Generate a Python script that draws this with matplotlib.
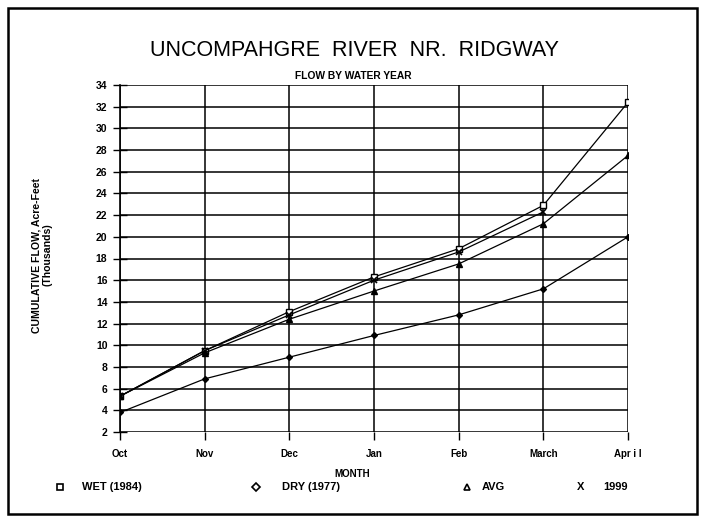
import matplotlib
matplotlib.use('Agg')
import matplotlib.pyplot as plt
from matplotlib.patches import Rectangle

# DATA
months = ['Oct', 'Nov', 'Dec', 'Jan', 'Feb', 'March', 'Apr i l']
wet_1984 = [5.3, 9.5, 13.1, 16.3, 18.9, 22.9, 32.4]
dry_1977 = [3.8, 6.9, 8.9, 10.9, 12.8, 15.2, 20.0]
avg = [5.3, 9.3, 12.4, 15.0, 17.5, 21.2, 27.5]
y_1999 = [5.3, 9.5, 12.8, 16.0, 18.6, 22.3]
yticks = list(range(2, 35, 2))

plt.rcParams['font.family'] = ['Liberation Sans', 'DejaVu Sans']

fig = plt.figure(figsize=(7.02, 5.24), dpi=100)
# outer frame
fig.patches.append(Rectangle((8/702, 1-514/524), 689/702, 506/524, transform=fig.transFigure,
                             fill=False, edgecolor='black', linewidth=1.8))

ax = fig.add_axes([120/702, 1-432/524, 508/702, 347/524])
x = list(range(len(months)))
ax.plot(x, wet_1984, color='black', lw=0.9, marker='s', ms=5, mfc='white', mec='black', mew=1)
ax.plot(x, dry_1977, color='black', lw=0.9, marker='D', ms=3, mfc='black', mec='black')
ax.plot(x, avg, color='black', lw=0.9, marker='^', ms=4, mfc='black', mec='black')
ax.plot(x[:len(y_1999)], y_1999, color='black', lw=0.9, marker='x', ms=4, mec='black', mew=1.2)

ax.set_xlim(0, 6)
ax.set_ylim(2, 34)
ax.set_xticks(x)
ax.set_xticklabels(months, fontsize=7, fontweight='bold')
ax.set_yticks(yticks)
ax.set_yticklabels([str(v) for v in yticks], fontsize=7.5, fontweight='bold')
ax.grid(True, color='black', linewidth=1.1)
for s in ax.spines.values():
    s.set_visible(False)
ax.spines['left'].set_visible(True)
ax.spines['left'].set_linewidth(1.2)
ax.tick_params(axis='y', direction='inout', length=10, width=1, pad=4)
ax.tick_params(axis='x', direction='out', length=6, width=1, pad=6)

fig.text(354/702, 1-50/524, 'UNCOMPAHGRE  RIVER  NR.  RIDGWAY', ha='center', va='center',
         fontsize=15.5)
fig.text(353/702, 1-76/524, 'FLOW BY WATER YEAR', ha='center', va='center', fontsize=7.4,
         fontweight='bold')
fig.text(42/702, 1-255/524, 'CUMULATIVE FLOW, Acre-Feet\n(Thousands)', ha='center', va='center',
         rotation=90, fontsize=7.6, fontweight='bold', linespacing=1.1)
fig.text(352/702, 1-474/524, 'MONTH', ha='center', va='center', fontsize=7, fontweight='bold')

# legend row
ly = 1-487/524
fig.lines.append(plt.Line2D([60/702], [ly], transform=fig.transFigure, marker='s', ms=5,
                            mfc='white', mec='black', mew=1.2, ls='none'))
fig.text(82/702, ly, 'WET (1984)', ha='left', va='center', fontsize=8, fontweight='bold')
fig.lines.append(plt.Line2D([256/702], [ly], transform=fig.transFigure, marker='D', ms=4,
                            mfc='white', mec='black', mew=1.2, ls='none'))
fig.text(282/702, ly, 'DRY (1977)', ha='left', va='center', fontsize=8, fontweight='bold')
fig.lines.append(plt.Line2D([467/702], [ly], transform=fig.transFigure, marker='^', ms=4.5,
                            mfc='white', mec='black', mew=1.2, ls='none'))
fig.text(482/702, ly, 'AVG', ha='left', va='center', fontsize=8, fontweight='bold')
fig.text(581/702, ly, 'X', ha='center', va='center', fontsize=8, fontweight='bold')
fig.text(603/702, ly, '1999', ha='left', va='center', fontsize=8, fontweight='bold')

fig.savefig('out.png', dpi=100)
